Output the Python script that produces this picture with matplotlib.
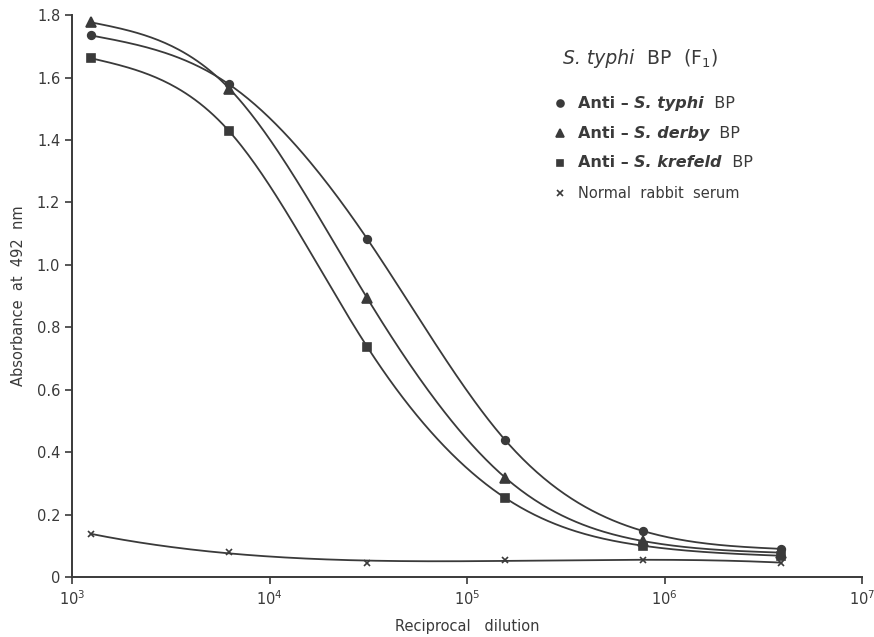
import numpy as np
import matplotlib
matplotlib.use('Agg')
import matplotlib.pyplot as plt
from matplotlib.ticker import FixedLocator, FixedFormatter, NullLocator

# Reciprocal dilutions (5-fold series) and absorbance readings at 492 nm
dilution = [1250, 6250, 31250, 156250, 781250, 3906250]
anti_typhi = [1.735, 1.578, 1.083, 0.438, 0.147, 0.090]
anti_derby = [1.777, 1.565, 0.893, 0.318, 0.115, 0.078]
anti_krefeld = [1.662, 1.428, 0.737, 0.253, 0.100, 0.068]
normal_serum = [0.137, 0.080, 0.046, 0.056, 0.054, 0.046]

yticks = [0, 0.2, 0.4, 0.6, 0.8, 1.0, 1.2, 1.4, 1.6, 1.8]
ytick_labels = ['0', '0.2', '0.4', '0.6', '0.8', '1.0', '1.2', '1.4', '1.6', '1.8']
xticks = [1e3, 1e4, 1e5, 1e6, 1e7]
xtick_labels = [r'$10^3$', r'$10^4$', r'$10^5$', r'$10^6$', r'$10^7$']

ink = '#3a3a3a'


def spline(x, y, xn):
    # natural cubic spline, only used to draw a smooth line through the points
    x = np.asarray(x, float)
    y = np.asarray(y, float)
    n = len(x)
    h = np.diff(x)
    A = np.zeros((n, n))
    b = np.zeros(n)
    A[0, 0] = A[-1, -1] = 1
    for i in range(1, n - 1):
        A[i, i - 1] = h[i - 1]
        A[i, i] = 2 * (h[i - 1] + h[i])
        A[i, i + 1] = h[i]
        b[i] = 6 * ((y[i + 1] - y[i]) / h[i] - (y[i] - y[i - 1]) / h[i - 1])
    M = np.linalg.solve(A, b)
    idx = np.clip(np.searchsorted(x, xn) - 1, 0, n - 2)
    x0, x1, hh = x[idx], x[idx + 1], h[idx]
    return (M[idx] * (x1 - xn)**3 / (6 * hh) + M[idx + 1] * (xn - x0)**3 / (6 * hh)
            + (y[idx] / hh - M[idx] * hh / 6) * (x1 - xn)
            + (y[idx + 1] / hh - M[idx + 1] * hh / 6) * (xn - x0))


fig = plt.figure(figsize=(8.74, 6.37), dpi=100)
ax = fig.add_axes([0.0824, 0.0942, 0.904, 0.882])

lx = np.log10(dilution)
fine = np.linspace(lx[0], lx[-1], 300)

series = [
    (anti_typhi, 'o', 5.5),
    (anti_derby, '^', 6.5),
    (anti_krefeld, 's', 5.5),
]
for vals, mk, ms in series:
    ax.plot(10**fine, spline(lx, vals, fine), color=ink, lw=1.3, zorder=2)
    ax.plot(dilution, vals, linestyle='none', marker=mk, ms=ms, color=ink,
            mew=1.2, clip_on=False, zorder=3)

# the control serum was drawn as a smooth fitted line rather than point to point
coef = np.polyfit(lx, normal_serum, 3)
ax.plot(10**fine, np.polyval(coef, fine), color=ink, lw=1.3, zorder=2)
ax.plot(dilution, normal_serum, linestyle='none', marker='x', ms=5, color=ink,
        mew=1.2, clip_on=False, zorder=3)

ax.set_xscale('log')
ax.set_xlim(1e3, 1e7)
ax.set_ylim(0, 1.8)
ax.xaxis.set_major_locator(FixedLocator(xticks))
ax.xaxis.set_major_formatter(FixedFormatter(xtick_labels))
ax.xaxis.set_minor_locator(NullLocator())
ax.yaxis.set_major_locator(FixedLocator(yticks))
ax.yaxis.set_major_formatter(FixedFormatter(ytick_labels))

for side in ['top', 'right']:
    ax.spines[side].set_visible(False)
for side in ['left', 'bottom']:
    ax.spines[side].set_color(ink)
    ax.spines[side].set_linewidth(1.4)
ax.tick_params(colors=ink, labelsize=10.5, length=5, width=1.2, direction='out')
ax.tick_params(axis='x', pad=4)

ax.set_xlabel('Reciprocal   dilution', fontsize=10.5, color=ink, labelpad=8)
ax.set_ylabel('Absorbance  at  492  nm', fontsize=10.5, color=ink, labelpad=8)


def text_run(x, y, parts, size):
    # write pieces of text one after another on the same line
    prev = None
    for s, style, weight in parts:
        if prev is None:
            prev = ax.text(x, y, s, transform=ax.transAxes, fontsize=size,
                           style=style, weight=weight, color=ink, va='center')
        else:
            prev = ax.annotate(s, xy=(1, 0.5), xycoords=prev, va='center',
                               fontsize=size, style=style, weight=weight, color=ink)


text_run(0.622, 0.923, [('S. typhi', 'italic', 'normal'),
                        ('  BP  (F$_1$)', 'normal', 'normal')], 13.5)

legend_rows = [
    ('o', 5, 0.843, [('Anti – ', 'normal', 'bold'), ('S. typhi', 'italic', 'bold'), ('  BP', 'normal', 'normal')]),
    ('^', 6, 0.790, [('Anti – ', 'normal', 'bold'), ('S. derby', 'italic', 'bold'), ('  BP', 'normal', 'normal')]),
    ('s', 5, 0.737, [('Anti – ', 'normal', 'bold'), ('S. krefeld', 'italic', 'bold'), ('  BP', 'normal', 'normal')]),
    ('x', 4.5, 0.683, [('Normal  rabbit  serum', 'normal', 'normal')]),
]
for mk, ms, yy, parts in legend_rows:
    ax.plot([0.618], [yy], marker=mk, ms=ms, color=ink, mew=1.2,
            transform=ax.transAxes, clip_on=False)
    text_run(0.640, yy, parts, 11.5 if mk != 'x' else 10.5)

fig.savefig('out.png', dpi=100, facecolor='white')
